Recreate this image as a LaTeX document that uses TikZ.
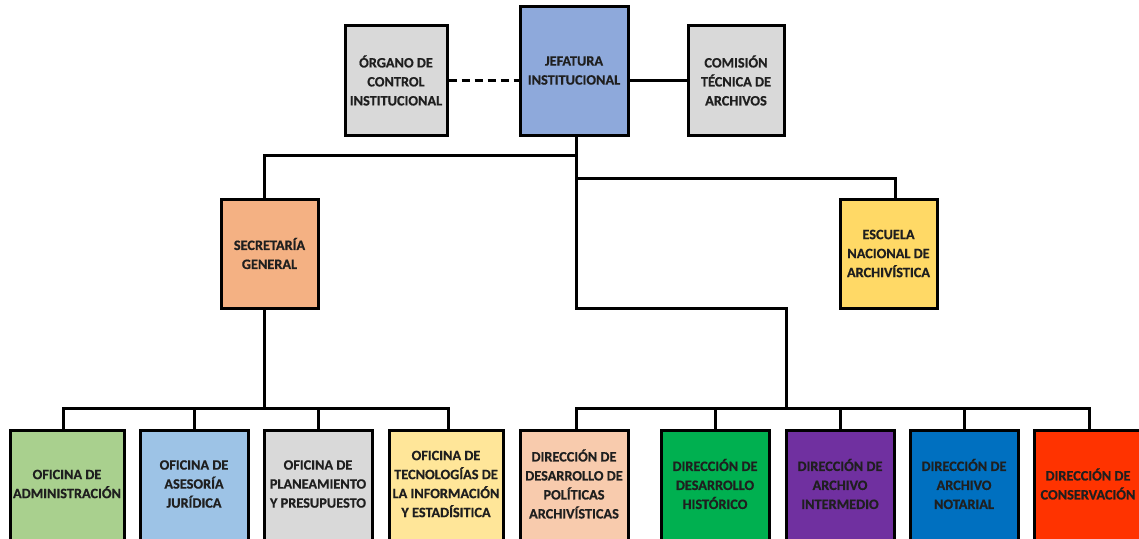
\documentclass[tikz,border=0pt]{standalone}
\usepackage{fontspec}
\setmainfont{Carlito}[BoldFont={Carlito Bold},BoldFeatures={FakeBold=0.6}]
\begin{document}
\begin{tikzpicture}[x=1pt,y=-1pt,
  box/.style={draw=black,line width=3pt,inner sep=0pt,align=center},
  conn/.style={line width=3pt,line cap=butt}]
\useasboundingbox (0,0) rectangle (1139,538);
\clip (0,0) rectangle (1139,538);
\definecolor{cjef}{HTML}{8EA9DB}
\definecolor{cgray}{HTML}{D9D9D9}
\definecolor{csec}{HTML}{F4B183}
\definecolor{cesc}{HTML}{FFD966}
\definecolor{cadm}{HTML}{A9D08E}
\definecolor{cjur}{HTML}{9DC3E6}
\definecolor{ctec}{HTML}{FFE699}
\definecolor{cpol}{HTML}{F8CBAD}
\definecolor{chis}{HTML}{00B050}
\definecolor{cint}{HTML}{7030A0}
\definecolor{cnot}{HTML}{0070C0}
\definecolor{ccon}{HTML}{FF3300}
\tikzset{lbl/.style={align=center,font=\bfseries\fontsize{14.3}{19}\selectfont,text=black!88}}
% top row
\node[box,lbl,fill=cjef,minimum width=108,minimum height=129] (jef) at (574,70.5) {JEFATURA\\INSTITUCIONAL};
\node[box,lbl,fill=cgray,minimum width=102,minimum height=110] (oci) at (396,80.5) {ÓRGANO DE\\CONTROL\\INSTITUCIONAL};
\node[box,lbl,fill=cgray,minimum width=96,minimum height=110] (com) at (736,80.5) {COMISIÓN\\TÉCNICA DE\\ARCHIVOS};
% middle
\node[box,lbl,fill=csec,minimum width=97,minimum height=109] (sec) at (269.5,253.5) {SECRETARÍA\\GENERAL};
\node[box,lbl,fill=cesc,minimum width=97,minimum height=109] (esc) at (888.5,253.5) {ESCUELA\\NACIONAL DE\\ARCHIVÍSTICA};
% bottom row (extends past page bottom)
\tikzset{bot/.style={box,minimum height=130,anchor=north}}
\node[bot,fill=cadm,minimum width=114] (adm) at (67,429) {};
\node[bot,fill=cjur,minimum width=108] (jur) at (194,429) {};
\node[bot,fill=cgray,minimum width=108] (pla) at (318,429) {};
\node[bot,fill=ctec,minimum width=114] (tec) at (446,429) {};
\node[bot,fill=cpol,minimum width=108] (pol) at (574,429) {};
\node[bot,fill=chis,minimum width=108] (his) at (715,429) {};
\node[bot,fill=cint,minimum width=108] (int) at (840,429) {};
\node[bot,fill=cnot,minimum width=108] (not) at (964,429) {};
\node[bot,fill=ccon,minimum width=108] (con) at (1088,429) {};
\node[lbl] (tadm) at (67,484) {OFICINA DE\\ADMINISTRACIÓN};
\node[lbl] (tjur) at (194,484) {OFICINA DE\\ASESORÍA\\JURÍDICA};
\node[lbl] (tpla) at (318,484) {OFICINA DE\\PLANEAMIENTO\\Y PRESUPUESTO};
\node[lbl] (ttec) at (446,484) {OFICINA DE\\TECNOLOGÍAS DE\\LA INFORMACIÓN\\Y ESTADÍSITICA};
\node[lbl] (tpol) at (574,484) {DIRECCIÓN DE\\DESARROLLO DE\\POLÍTICAS\\ARCHIVÍSTICAS};
\node[lbl] (this) at (715,484) {DIRECCIÓN DE\\DESARROLLO\\HISTÓRICO};
\node[lbl] (tint) at (840,484) {DIRECCIÓN DE\\ARCHIVO\\INTERMEDIO};
\node[lbl] (tnot) at (964,484) {DIRECCIÓN DE\\ARCHIVO\\NOTARIAL};
\node[lbl] (tcon) at (1088,484) {DIRECCIÓN DE\\CONSERVACIÓN};
% junction coordinates
\coordinate (j1) at (576,155);
\coordinate (j2) at (576,178);
\coordinate (j3) at (576,308);
\coordinate (j4) at (786,308);
\coordinate (j5) at (786,408);
\coordinate (j6) at (264,408);
% connectors
\draw[conn,dash pattern=on 8pt off 5pt] (oci.east) -- (jef.west |- oci.east);
\draw[conn] (jef.east |- com.west) -- (com.west);
\draw[conn] (jef.south -| j1) -- (j3) -- (j4) -- (j5);
\draw[conn] (j1) -- (264,155) -- (sec.north -| j6);
\draw[conn] (j2) -- (895,178) -- (esc.north -| 895,0);
\draw[conn] (sec.south -| j6) -- (j6);
\draw[conn] (adm.north -| 63,0) -- (63,408) -- (448,408) -- (tec.north -| 448,0);
\draw[conn] (jur.north) -- (jur.north |- j6);
\draw[conn] (pla.north) -- (pla.north |- j6);
\draw[conn] (pol.north -| 576,0) -- (576,408) -- (1089,408) -- (con.north -| 1089,0);
\draw[conn] (his.north) -- (his.north |- j5);
\draw[conn] (int.north) -- (int.north |- j5);
\draw[conn] (not.north) -- (not.north |- j5);
\end{tikzpicture}
\end{document}
